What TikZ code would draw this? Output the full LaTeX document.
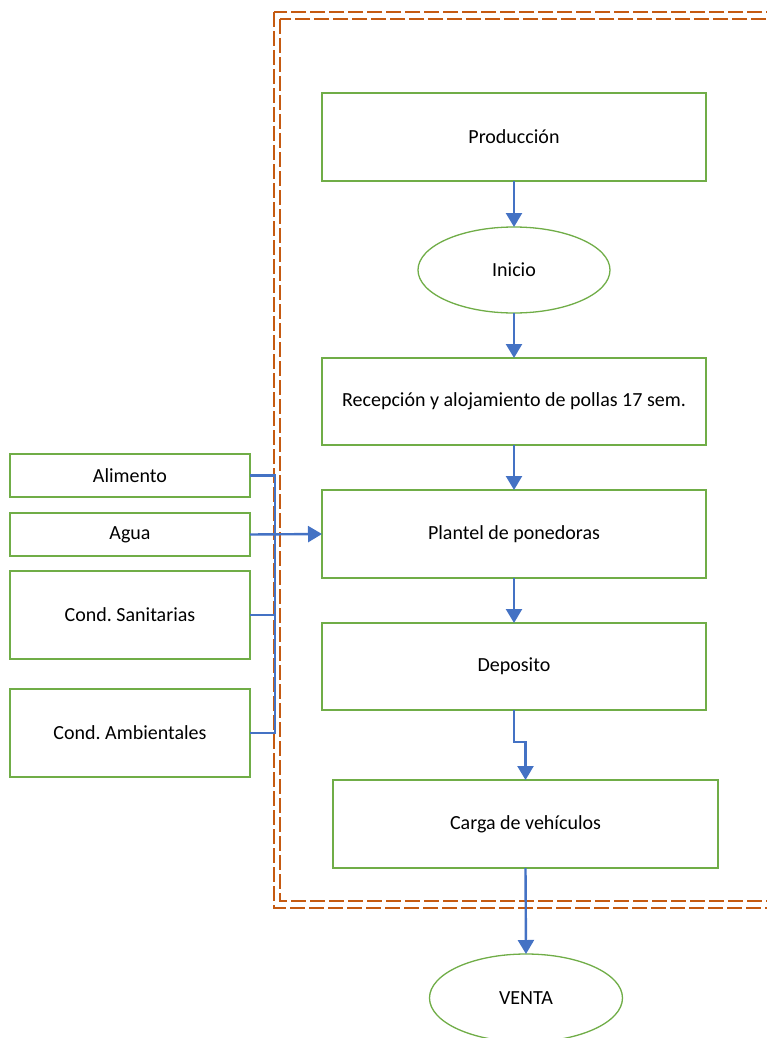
\documentclass[tikz,border=0pt]{standalone}
\usepackage{fontspec}
\setmainfont{Carlito}
\usetikzlibrary{arrows.meta,shapes.geometric}
\definecolor{boxgreen}{HTML}{70AD47}
\definecolor{flowblue}{HTML}{4472C4}
\definecolor{frameorange}{HTML}{C55A11}
\frenchspacing
\begin{document}
\begin{tikzpicture}[x=1pt,y=-1pt,
  box/.style={draw=boxgreen, line width=1.3pt, fill=white, rectangle, inner sep=0pt, outer sep=0pt,
              anchor=north west, font=\fontsize{20}{24}\selectfont},
  oval/.style={draw=boxgreen, line width=1.3pt, fill=white, ellipse, inner sep=0pt, outer sep=0pt,
               minimum width=192pt, minimum height=86pt, font=\fontsize{20}{24}\selectfont},
  flow/.style={draw=flowblue, line width=2.4pt},
  arrow/.style={flow, -{Triangle[length=14pt, width=16pt]}},
  frame/.style={draw=frameorange, line width=2.2pt, dash pattern=on 15pt off 4pt}
]
\useasboundingbox (0,0) rectangle (767,1038);

% double dashed frame around the process
\draw[frame] (274,12) rectangle (800,908);
\draw[frame] (280,19) rectangle (800,901);

% main process column
\node[box, minimum width=384pt, minimum height=88pt] (prod) at (322,93) {Producción};
\node[oval] (inicio) at (514,270) {Inicio};
\node[box, minimum width=384pt, minimum height=87pt] (recep) at (322,358) {Recepción y alojamiento de pollas 17 sem.};
\node[box, minimum width=384pt, minimum height=88pt] (plantel) at (322,490) {Plantel de ponedoras};
\node[box, minimum width=384pt, minimum height=87pt] (dep) at (322,623) {Deposito};
\node[box, minimum width=385pt, minimum height=88pt] (carga) at (333,780) {Carga de vehículos};
\node[oval, minimum width=193pt, minimum height=88pt] (venta) at (526,998) {VENTA};

% inputs
\node[box, minimum width=240pt, minimum height=43pt] (alim) at (10,454) {Alimento};
\node[box, minimum width=240pt, minimum height=43pt] (agua) at (10,513) {Agua};
\node[box, minimum width=240pt, minimum height=88pt] (san) at (10,571) {Cond. Sanitarias};
\node[box, minimum width=240pt, minimum height=88pt] (amb) at (10,689) {Cond. Ambientales};

% input bus
\coordinate (bustop) at (275,475.5);
\coordinate (busbot) at (275,733);
\draw[flow] (alim.east) -- (bustop) -- (busbot) -- (amb.east);
\draw[flow] (san.east) -- (san.east -| bustop);
\draw[arrow] (agua.east) -- (plantel.west);

% process arrows
\draw[arrow] (prod.south) -- (inicio.north);
\draw[arrow] (inicio.south) -- (recep.north);
\draw[arrow] (recep.south) -- (plantel.north);
\draw[arrow] (plantel.south) -- (dep.north);
\draw[arrow] (dep.south) -- ++(0,32) -| (carga.north);
\draw[arrow] (carga.south) -- (venta.north);
\end{tikzpicture}
\end{document}
